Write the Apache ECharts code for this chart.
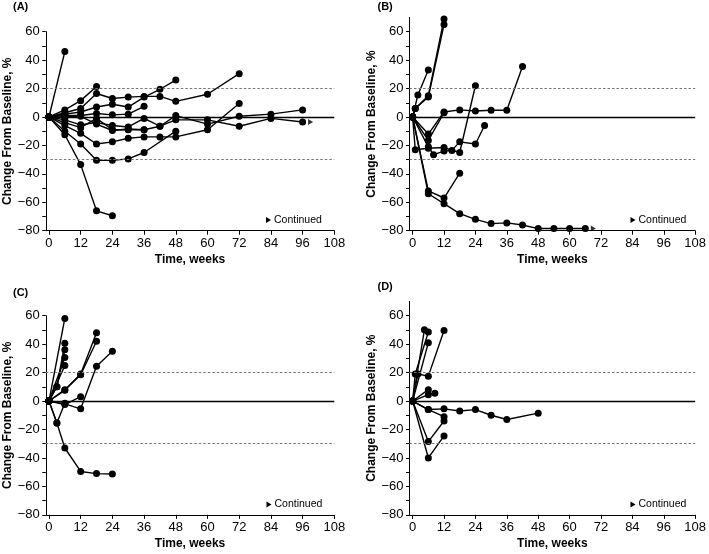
<!DOCTYPE html>
<html>
<head>
<meta charset="utf-8">
<script src="https://cdn.jsdelivr.net/npm/echarts@6/dist/echarts.min.js"></script>
<style>
html,body{margin:0;padding:0;background:#fff;}
#chart{width:709px;height:554px;}
</style>
</head>
<body>
<div id="chart"></div>
<script>
// ---- data ----
const weekTicks = [0, 12, 24, 36, 48, 60, 72, 84, 96, 108];
const pctLabels = [-80, -60, -40, -20, 0, 20, 40, 60];
const pctMinorTicks = [-80, -70, -60, -50, -40, -30, -20, -10, 0, 10, 20, 30, 40, 50, 60];
const refLines = [20, -30];
const panelNames = ['(A)', '(B)', '(C)', '(D)'];
const xTitle = 'Time, weeks';
const yTitle = 'Change From Baseline, %';
const legendText = 'Continued';

// each subject: list of [week, % change]
const panelA = [
  [[0,0],[6,46]],
  [[0,0],[6,-12.5],[12,-33.5],[18,-66],[24,-69.5]],
  [[0,0],[6,-10],[12,-19],[18,-30.5],[24,-30.5],[30,-29.5],[36,-25],[48,-10]],
  [[0,0],[6,-6],[12,-11.5],[18,-19],[24,-17.5],[30,-15],[36,-14],[42,-14],[48,-14],[60,-9],[72,9.5]],
  [[0,0],[6,5],[12,11.5],[18,21.5]],
  [[0,0],[6,3],[12,6],[18,16.5],[24,13],[30,14],[36,14.5],[42,14.5],[48,11],[60,16],[72,30.5]],
  [[0,0],[6,2],[12,3.5],[18,7],[24,9],[30,7],[36,14],[42,19.5],[48,26]],
  [[0,0],[6,1],[12,1],[18,2.5],[24,1.5],[30,2],[36,7.5]],
  [[0,0],[6,-2],[12,-5.5],[18,-4],[24,-6],[30,-7],[36,-1],[42,-6.5],[48,1],[60,-5],[72,0.5],[84,2],[96,5]],
  [[0,0],[6,-4],[12,-7.5],[18,-1],[24,-9],[30,-9],[36,-9],[42,-6.5],[48,-2],[60,-2],[72,-6.5],[84,-1],[96,-3.5]],
  [[0,0],[6,0],[12,0.5],[18,-5],[24,-9.5],[30,-8.5],[36,-9]]
];
const panelB = [
  [[0,0],[1,6],[6,14],[12,65]],
  [[0,0],[1,6],[6,15],[12,69]],
  [[0,0],[2,15.5],[6,33]],
  [[0,0],[6,-12],[12,3.5],[18,5],[24,4.2],[30,4.7],[36,4.7],[42,35.5]],
  [[0,0],[6,-16.5],[12,3]],
  [[0,0],[6,-21],[8,-26.5],[12,-24],[15,-23.5],[18,-17.5],[24,-19],[27.5,-6]],
  [[0,0],[1,-23],[6,-22],[12,-21.5],[18,-25],[24,22]],
  [[0,0],[6,-52],[12,-57],[18,-39.5]],
  [[0,0],[6,-54],[12,-61],[18,-68],[24,-72],[30,-75],[36,-74.5],[42,-76],[48,-78.5],[54,-78.5],[60,-78.5],[66,-78.5]]
];
const panelC = [
  [[0,0],[6,58]],
  [[0,0],[3,10],[6,40.5]],
  [[0,0],[3,10],[6,36]],
  [[0,0],[6,30.5]],
  [[0,0],[6,25]],
  [[0,0],[6,8],[12,19],[18,48]],
  [[0,0],[6,7.5],[12,18.5],[18,42]],
  [[0,0],[6,-2],[12,-5.5],[18,24.5],[24,35]],
  [[0,0],[6,-2.5],[12,3]],
  [[0,0],[3,-15.5],[6,-1.5]],
  [[0,0],[3,-15.5],[6,-33],[12,-49.5],[18,-51],[24,-51.3]]
];
const panelD = [
  [[0,0],[4.5,50]],
  [[0,0],[1,19],[6,48.5]],
  [[0,0],[6,41]],
  [[0,0],[2,19],[6,17.5],[12,49.5]],
  [[0,0],[6,8]],
  [[0,0],[6,4.5],[8.5,5.5]],
  [[0,0],[6,-6],[12,-5.5],[18,-7],[24,-6],[30,-10],[36,-13],[48,-8.5]],
  [[0,0],[6,-6],[12,-11]],
  [[0,0],[6,-28.5],[12,-14]],
  [[0,0],[6,-40],[12,-24.5]]
];
// indices of subjects still continuing (arrow at last point)
const continuedA = [9];
const continuedB = [8];
const continuedC = [];
const continuedD = [];

const panels = [panelA, panelB, panelC, panelD];
const continued = [continuedA, continuedB, continuedC, continuedD];
const yMax = [60, 70, 60, 70];

// ---- layout ----
const X_MIN = -1.2, X_MAX = 108, Y_MIN = -80;
const layout = [
  {left: 45.8, top: 31.7, width: 288.5, height: 199},
  {left: 409.5, top: 17.5, width: 288.5, height: 213.2},
  {left: 45.8, top: 315.6, width: 288.5, height: 199.3},
  {left: 409.5, top: 301.4, width: 288.5, height: 213.5}
];
const labelPos = [[13, 7], [377.5, 7], [13, 293.5], [377.5, 287]];
const legendPos = [[268, 220], [632.5, 220], [268.5, 504.5], [632.5, 504.5]];

const FONT = 'Liberation Sans, Arial, Helvetica, sans-serif';
const fmt = v => (v < 0 ? '\u2212' + Math.abs(v) : String(v));
const arrowPath = 'path://M0,0 L10,6 L0,12 Z';

const grid = [], xAxis = [], yAxis = [], series = [], graphic = [];
panels.forEach((subjects, p) => {
  grid.push(Object.assign({containLabel: false}, layout[p]));
  xAxis.push({
    type: 'value', gridIndex: p, min: X_MIN, max: X_MAX,
    name: xTitle, nameLocation: 'middle', nameGap: 23,
    nameTextStyle: {fontFamily: FONT, fontSize: 12, fontWeight: 'bold', color: '#000'},
    axisLine: {onZero: false, lineStyle: {color: '#000', width: 1}},
    axisTick: {show: true, length: 4, customValues: weekTicks, lineStyle: {color: '#000'}},
    axisLabel: {customValues: weekTicks, fontFamily: FONT, fontSize: 13, color: '#000', margin: 6, formatter: fmt},
    splitLine: {show: false}
  });
  yAxis.push({
    type: 'value', gridIndex: p, min: Y_MIN, max: yMax[p],
    name: yTitle, nameLocation: 'middle', nameGap: 32,
    nameTextStyle: {fontFamily: FONT, fontSize: 12, fontWeight: 'bold', color: '#000'},
    axisLine: {show: true, onZero: false, lineStyle: {color: '#000', width: 1}},
    axisTick: {show: true, length: 3.5, customValues: pctMinorTicks, lineStyle: {color: '#000'}},
    axisLabel: {customValues: pctLabels, fontFamily: FONT, fontSize: 13, color: '#000', margin: 6, formatter: fmt},
    splitLine: {show: false}
  });
  // reference lines
  series.push({
    type: 'line', xAxisIndex: p, yAxisIndex: p, data: [], silent: true,
    markLine: {
      silent: true, symbol: ['none', 'none'], label: {show: false}, animation: false,
      data: [
        {yAxis: 0, lineStyle: {color: '#000', width: 1.4, type: 'solid'}},
        {yAxis: refLines[0], lineStyle: {color: '#777', width: 1, type: [2.5, 2]}},
        {yAxis: refLines[1], lineStyle: {color: '#777', width: 1, type: [2.5, 2]}}
      ]
    }
  });
  subjects.forEach(pts => {
    series.push({
      type: 'line', xAxisIndex: p, yAxisIndex: p, data: pts,
      symbol: 'circle', symbolSize: 7, showSymbol: true,
      lineStyle: {color: '#000', width: 1.4},
      itemStyle: {color: '#000'},
      animation: false, z: 3
    });
  });
  const ends = continued[p].map(i => subjects[i][subjects[i].length - 1]);
  if (ends.length) {
    series.push({
      type: 'scatter', xAxisIndex: p, yAxisIndex: p, data: ends,
      symbol: arrowPath, symbolSize: [5, 6], symbolOffset: [8, 0],
      itemStyle: {color: '#000'}, animation: false, z: 4
    });
  }
  graphic.push({
    type: 'text', left: labelPos[p][0], top: labelPos[p][1] - 6,
    style: {text: panelNames[p], font: 'bold 11px ' + FONT, fill: '#000'}
  });
  graphic.push({
    type: 'polygon', shape: {points: [[legendPos[p][0] - 2, legendPos[p][1] - 3], [legendPos[p][0] + 3, legendPos[p][1]], [legendPos[p][0] - 2, legendPos[p][1] + 3]]},
    style: {fill: '#000'}
  });
  graphic.push({
    type: 'text', x: legendPos[p][0] + 6, y: legendPos[p][1],
    style: {text: legendText, font: '10.5px ' + FONT, fill: '#000', verticalAlign: 'middle', align: 'left'}
  });
});

const chart = echarts.init(document.getElementById('chart'), null, {renderer: 'canvas'});
chart.setOption({animation: false, backgroundColor: '#fff', grid, xAxis, yAxis, series, graphic});
</script>
</body>
</html>
